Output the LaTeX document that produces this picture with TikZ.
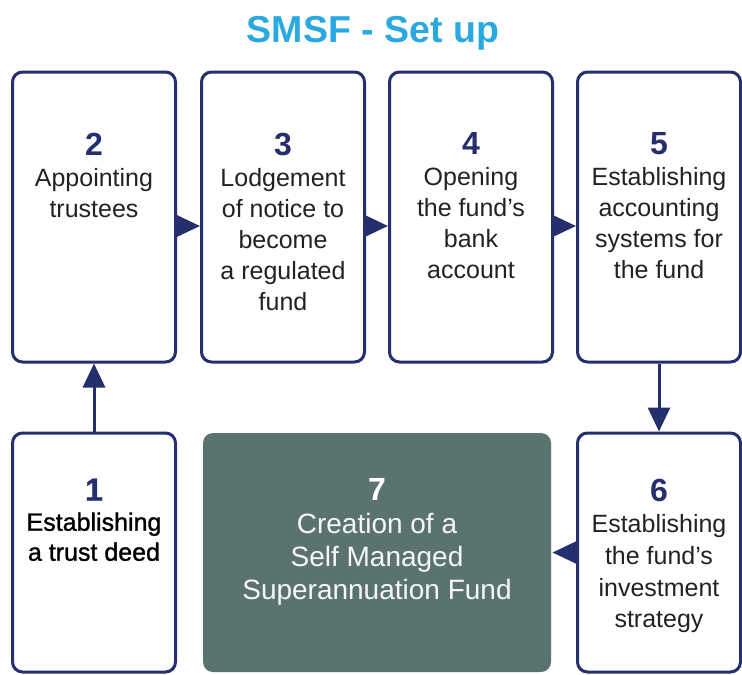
\documentclass[tikz,border=0pt]{standalone}
\usepackage{fontspec}
\setmainfont{Liberation Sans}
\newfontfamily\heavyfont[FakeBold=1.2]{Liberation Sans}
\usetikzlibrary{arrows.meta}
\definecolor{navy}{HTML}{262F6E}
\definecolor{skyblue}{HTML}{29A9E0}
\definecolor{sage}{HTML}{5B736F}
\definecolor{ink}{HTML}{222222}
\newcommand{\stepnum}[2][navy]{{\fontsize{32}{31}\selectfont\bfseries\color{#1}#2}}
\begin{document}
\begin{tikzpicture}[x=1pt,y=-1pt,
    box/.style={draw=navy, line width=3pt, rounded corners=10pt, minimum width=163pt, inner sep=0pt},
    tall/.style={box, minimum height=290pt},
    short/.style={box, minimum height=239pt},
    txt/.style={anchor=north, align=center, inner sep=0pt, text=ink, font=\fontsize{25}{31}\selectfont},
    arr/.style={navy, line width=3pt, -{Triangle[length=24pt,width=22pt]}}]
        \useasboundingbox (0,0) rectangle (742,675);
        % Title
        \node[font=\fontsize{37.5}{37.5}\selectfont\bfseries, text=skyblue] (title) at (373,33) {SMSF - Set up};

        % Top row of boxes
        \node[tall] (b2) at (94,217) {};
        \node[tall] (b3) at (283,217) {};
        \node[tall] (b4) at (471,217) {};
        \node[tall] (b5) at (659,217) {};
        % Bottom row of boxes
        \node[short] (b1) at (94,552.5) {};
        \node[short, draw=none, fill=sage, minimum width=348pt] (b7) at (377,552.5) {};
        \node[short] (b6) at (659,552.5) {};

        % Step texts
        \node[txt] (t2) at ([yshift=-62pt]b2.north) {\stepnum{2}\\Appointing\\trustees};
        \node[txt] (t3) at ([yshift=-62pt]b3.north) {\stepnum{3}\\Lodgement\\of notice to\\become\\a regulated\\fund};
        \node[txt] (t4) at ([yshift=-62pt]b4.north) {\stepnum{4}\\Opening\\the fund's\\bank\\account};
        \node[txt] (t5) at ([yshift=-62pt]b5.north) {\stepnum{5}\\Establishing\\accounting\\systems for\\the fund};
        \node[txt, text=black, font=\heavyfont\fontsize{25}{30}\selectfont] (t1) at ([yshift=-47pt]b1.north) {\stepnum{1}\\Establishing\\a trust deed};
        \node[txt, text=white!94!sage, font=\fontsize{28}{33}\selectfont] (t7) at ([yshift=-47pt]b7.north) {\stepnum[white]{7}\\Creation of a\\Self Managed\\Superannuation Fund};
        \node[txt, font=\fontsize{25}{31.7}\selectfont] (t6) at ([yshift=-47pt]b6.north) {\stepnum{6}\\Establishing\\the fund's\\investment\\strategy};

        % Draw arrows between steps
        \draw[arr] ([yshift=-9pt]b2.east) -- ([yshift=-9pt]b3.west);
        \draw[arr] ([yshift=-9pt]b3.east) -- ([yshift=-9pt]b4.west);
        \draw[arr] ([yshift=-9pt]b4.east) -- ([yshift=-9pt]b5.west);
        \draw[arr] (b5) -- (b6);
        \draw[arr] (b1) -- (b2);
        \draw[arr] (b6) -- (b7);
    \end{tikzpicture}
\end{document}
